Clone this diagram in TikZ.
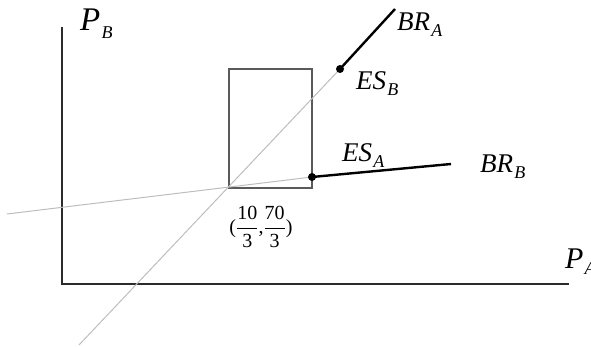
\documentclass[tikz,border=0pt]{standalone}
\usepackage{amsmath}
\usepackage{fontspec}
\setmainfont{Liberation Serif}
\usepackage{xcolor}
\usepackage{tikz}
\definecolor{AxisGray}{HTML}{2B2B2B}
\definecolor{BoxGray}{HTML}{5A5A5A}
\definecolor{LineGray}{HTML}{BDBDBD}
\newcommand{\sublab}[2]{\textit{#1}\kern0.04em\raisebox{-0.22em}{\fontsize{18}{18}\selectfont\textit{#2}}}
\tikzset{
  axisline/.style={draw=AxisGray, line width=1.8pt},
  boxline/.style={draw=BoxGray, line width=1.2pt},
  grayline/.style={draw=LineGray, line width=1pt},
  brseg/.style={draw=black, line width=2.4pt},
  esdot/.style={circle, fill=black, inner sep=0pt, minimum size=8pt},
  curvelab/.style={anchor=base west, inner sep=0pt, font=\fontsize{27}{27}\selectfont},
  axislab/.style={anchor=base west, inner sep=0pt, font=\fontsize{33}{33}\selectfont}
}

\begin{document}
\begin{tikzpicture}[x=1pt, y=-1pt]
  \useasboundingbox (0,0) rectangle (591,347);
  % axes
  \coordinate (origin) at (62,284);
  \coordinate (ytop) at (62,27);
  \coordinate (xend) at (569,284);
  \draw[axisline] (ytop) -- (origin) -- (xend);
  \node[axislab] (pB) at (80,31) {\sublab{P}{B}};
  \node[axislab, font=\fontsize{30}{30}\selectfont] (pA) at (565,268) {\sublab{P}{A}};
  % equilibrium points and region
  \coordinate (eq) at (229,188);
  \coordinate (boxtr) at (312,69);
  \coordinate (esB) at (340,69);
  \coordinate (esA) at (312,177);
  \coordinate (brAend) at (395,9);
  \coordinate (brBend) at (451,164);
  \coordinate (grayA) at (79,345);
  \coordinate (grayB) at (7,214);
  \draw[boxline] (eq) rectangle (boxtr);
  \draw[grayline] (grayA) -- (esB);
  \draw[grayline] (grayB) -- (esA);
  \draw[brseg] (esB) -- (brAend);
  \draw[brseg] (esA) -- (brBend);
  \node[esdot] (dotB) at (esB) {};
  \node[esdot] (dotA) at (esA) {};
  % labels
  \node[curvelab] (brA) at (397,31) {\sublab{BR}{A}};
  \node[curvelab] (esBlab) at (356,90) {\sublab{ES}{B}};
  \node[curvelab] (esAlab) at (342,162) {\sublab{ES}{A}};
  \node[curvelab] (brB) at (480,173) {\sublab{BR}{B}};
  \node[font=\fontsize{20}{20}\selectfont, inner sep=0pt] (eqlab) at (261,227)
    {($\dfrac{\text{10}}{\text{3}}$,$\dfrac{\text{70}}{\text{3}}$)};
\end{tikzpicture}
\end{document}
